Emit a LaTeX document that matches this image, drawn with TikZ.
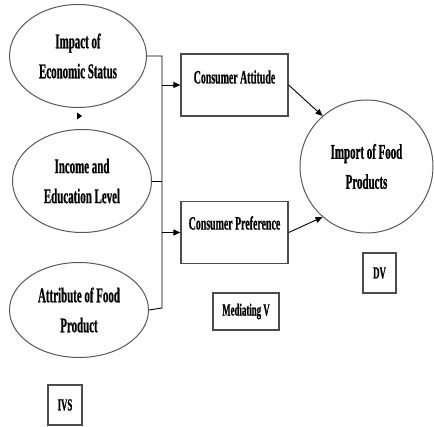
\documentclass[tikz,border=0pt]{standalone}
\usepackage{fontspec}
\newfontfamily\lab{Liberation Serif}[FakeStretch=0.52,FakeBold=0.6]
\usetikzlibrary{shapes.geometric,arrows.meta}
\tikzset{
  ell/.style={ellipse, draw=black!65, line width=1pt, inner sep=0pt, align=center,
    font=\lab\bfseries\fontsize{21}{30}\selectfont},
  boxnode/.style={rectangle, draw=black!70, line width=1.3pt, inner sep=0pt,
    minimum width=107pt, minimum height=62pt},
  boxtext/.style={font=\lab\bfseries\fontsize{19}{20}\selectfont, inner sep=0pt},
  tag/.style={rectangle, draw=black!70, line width=1.3pt, inner sep=0pt,
    font=\lab\bfseries\fontsize{17}{18}\selectfont},
  conn/.style={draw=black, line width=0.9pt},
  arr/.style={conn, -{Triangle[length=7pt,width=6pt]}},
}
\begin{document}
\begin{tikzpicture}[x=1pt,y=-1pt]
\useasboundingbox[fill=white] (0,0) rectangle (434,427);
% independent variables
\node[ell, minimum width=137pt, minimum height=103pt] (e1) at (78,56) {Impact of\\Economic Status};
\node[ell, minimum width=139pt, minimum height=103pt] (e2) at (82,181) {Income and\\Education Level};
\node[ell, minimum width=139pt, minimum height=95pt] (e3) at (79,310) {Attribute of Food\\Product};
% mediators
\node[boxnode] (b1) at (234.5,85) {};
\node[boxtext, anchor=center] (t1) at (234.5,77) {Consumer Attitude};
\node[boxnode] (b2) at (234.5,232.5) {};
\node[boxtext, anchor=center] (t2) at (234.5,223) {Consumer Preference};
% dependent
\node[ell, minimum width=133pt, minimum height=133pt] (dv) at (366.5,166.5) {Import of Food\\Products};
% tags
\node[tag, minimum width=33pt, minimum height=40pt] (tdv) at (379.5,273) {DV};
\node[tag, minimum width=66pt, minimum height=37pt] (tmv) at (246,311.5) {Mediating V};
\node[tag, minimum width=34pt, minimum height=40pt] (tiv) at (65,405) {IVS};
% bus
\coordinate (bus) at (162,308);
\draw[conn] (e1.east) -| (bus) -- (e3.east);
\draw[conn] (e2.east) -- (e2.east -| bus);
\draw[arr] (bus |- b1.west) -- (b1.west);
\draw[arr] (bus |- b2.west) -- (b2.west);
% to DV
\draw[arr] (b1.east) -- (dv.131);
\draw[arr] (b2.east) -- (dv.229);
% stray arrowhead
\coordinate (s1) at (77,112.5);
\coordinate (s2) at (82,116);
\coordinate (s3) at (77,119.5);
\fill[black] (s1) -- (s2) -- (s3) -- cycle;
\end{tikzpicture}
\end{document}
